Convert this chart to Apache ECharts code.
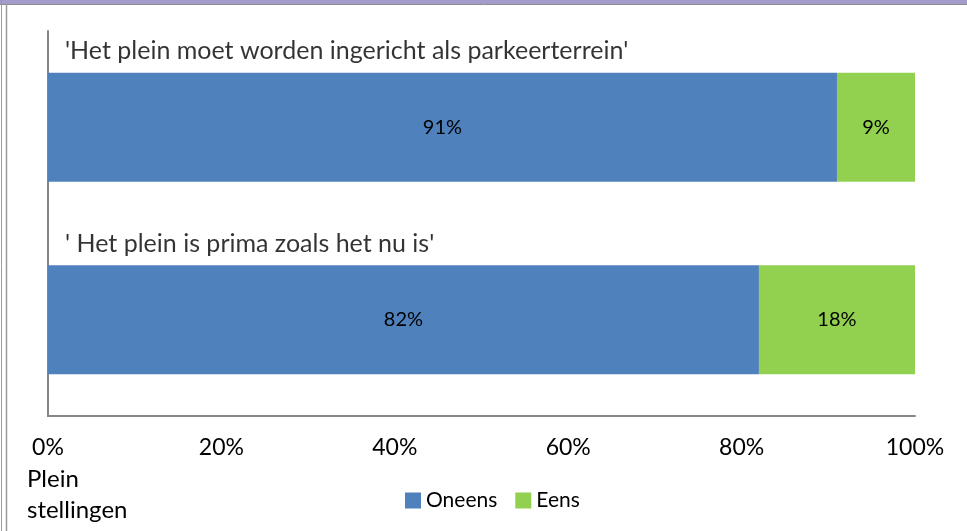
<!DOCTYPE html>
<html>
<head>
<meta charset="UTF-8"/>
<title>Plein stellingen</title>
<script src="https://cdn.jsdelivr.net/npm/echarts@6/dist/echarts.min.js"></script>
<style>
	html, body { margin: 0; padding: 0; background: #fff; }
	#chart { width: 967px; height: 531px; }
</style>
</head>
<body>
<div id="chart"></div>
<script type="text/javascript">
	var categories = ["'Het plein moet worden ingericht als parkeerterrein'", "' Het plein is prima zoals het nu is'"];
	var oneens = [91, 82];
	var eens = [9, 18];
	var seriesNames = ['Oneens', 'Eens'];
	var font = 'Lato, "Open Sans", sans-serif';

	// anchor points at 0% for the statement texts above each bar
	var statementPoints = categories.map(function (c) { return [0, c]; });

	var myChart = echarts.init(document.getElementById('chart'));
	var option = {
		animation: false,
		backgroundColor: '#fff',
		title: {
			text: 'Plein\nstellingen',
			left: 22,
			top: 459,
			textStyle: { fontFamily: font, fontSize: 24, fontWeight: 'normal', color: '#000', lineHeight: 31 }
		},
		legend: {
			data: seriesNames,
			left: 400,
			top: 485,
			icon: 'rect',
			itemWidth: 16,
			itemHeight: 16,
			itemGap: 18,
			textStyle: { fontFamily: font, fontSize: 21, color: '#000' }
		},
		grid: { left: 48, right: 52, top: 31, bottom: 115, containLabel: false },
		xAxis: {
			type: 'value',
			min: 0,
			max: 100,
			interval: 20,
			axisLine: { show: true, lineStyle: { color: '#868686', width: 2 } },
			axisTick: { show: false },
			splitLine: { show: false },
			axisLabel: { formatter: '{value}%', margin: 20, fontFamily: font, fontSize: 23, color: '#000' }
		},
		yAxis: {
			type: 'category',
			inverse: true,
			data: categories,
			axisLine: { show: true, lineStyle: { color: '#868686', width: 2 } },
			axisTick: { show: false },
			axisLabel: { show: false }
		},
		series: [
			{
				name: seriesNames[0],
				type: 'bar',
				stack: 'total',
				barWidth: 109,
				data: oneens,
				itemStyle: { color: '#4F81BD' },
				label: { show: true, position: 'inside', formatter: '{c}%', fontFamily: font, fontSize: 20, color: '#000' }
			},
			{
				name: seriesNames[1],
				type: 'bar',
				stack: 'total',
				barWidth: 109,
				data: eens,
				itemStyle: { color: '#92D050' },
				label: { show: true, position: 'inside', formatter: '{c}%', fontFamily: font, fontSize: 20, color: '#000' }
			},
			{
				name: 'statements',
				type: 'scatter',
				symbolSize: 0,
				silent: true,
				data: statementPoints,
				label: {
					show: true,
					position: 'right',
					distance: 0,
					offset: [17, -76],
					formatter: function (p) { return p.value[1]; },
					fontFamily: font,
					fontSize: 25,
					color: '#000'
				}
			}
		],
		graphic: [
			{ type: 'rect', shape: { x: 0, y: 0, width: 967, height: 4 }, style: { fill: '#A29CCB' } },
			{ type: 'line', shape: { x1: 0, y1: 4.5, x2: 967, y2: 4.5 }, style: { stroke: '#8c8c8c', lineWidth: 1 } },
			{ type: 'line', shape: { x1: 1.5, y1: 0, x2: 1.5, y2: 531 }, style: { stroke: '#9a9a9a', lineWidth: 1 } },
			{ type: 'line', shape: { x1: 6.5, y1: 4, x2: 6.5, y2: 531 }, style: { stroke: '#9a9a9a', lineWidth: 1.5 } }
		]
	};
	myChart.setOption(option);
</script>
</body>
</html>
